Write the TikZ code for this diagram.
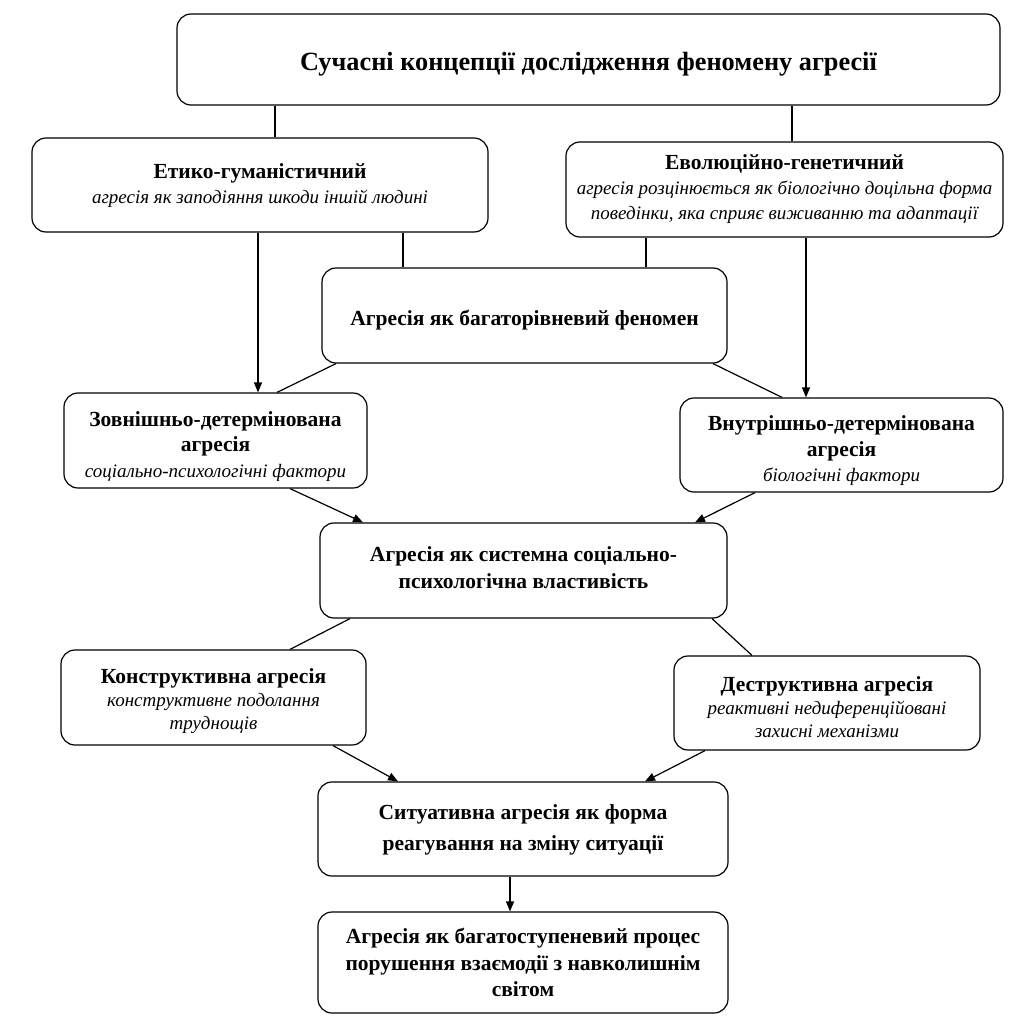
\documentclass[tikz,border=0pt]{standalone}
\usepackage{fontspec}
\setmainfont{Liberation Serif}
\usetikzlibrary{arrows.meta}
% bold upright heading line inside the smaller boxes
\newcommand\hd[1]{{\fontsize{21.5}{25}\selectfont\upshape\bfseries #1}}
\begin{document}
\begin{tikzpicture}[x=1pt,y=-1pt,
  box/.style={draw, line width=1.2pt, rounded corners=14pt, fill=white, inner sep=0pt},
  txt/.style={align=center, inner sep=0pt},
  headtxt/.style={txt, font=\fontsize{21.5}{27}\selectfont\bfseries},
  subtxt/.style={txt, font=\fontsize{19}{#1}\selectfont\itshape},
  link/.style={line width=1.2pt},
  arr/.style={line width=1.2pt, -{Triangle[length=10pt,width=8pt]}}]
\useasboundingbox[fill=white] (0,0) rectangle (1030,1030);

% boxes
\node[box, minimum width=823pt, minimum height=91pt] (top) at (588.5,59.5) {};
\node[box, minimum width=456pt, minimum height=94pt] (eth) at (260,185) {};
\node[box, minimum width=437pt, minimum height=95pt] (evo) at (784.5,189.5) {};
\node[box, minimum width=405pt, minimum height=95pt] (multi) at (524.5,315.5) {};
\node[box, minimum width=303pt, minimum height=95pt] (ext) at (215.5,440.5) {};
\node[box, minimum width=323pt, minimum height=94pt] (int) at (841.5,445) {};
\node[box, minimum width=407pt, minimum height=95pt] (sys) at (523.5,570.5) {};
\node[box, minimum width=305pt, minimum height=95pt] (con) at (213.5,697.5) {};
\node[box, minimum width=306pt, minimum height=94pt] (des) at (827,703) {};
\node[box, minimum width=410pt, minimum height=94pt] (sit) at (523,829) {};
\node[box, minimum width=410pt, minimum height=101pt] (proc) at (523,962.5) {};

% box texts
\node[headtxt, font=\fontsize{26.3}{30}\selectfont\bfseries] (top-t) at ([yshift=-5pt]top.center)
  {Сучасні концепції дослідження феномену агресії};
\node[subtxt=25] (eth-t) at ([yshift=-1pt]eth.center)
  {\hd{Етико-гуманістичний}\\ агресія як заподіяння шкоди іншій людині};
\node[subtxt=25] (evo-t) at ([yshift=0pt]evo.center)
  {\hd{Еволюційно-генетичний}\\ агресія розцінюється як біологічно доцільна форма\\ поведінки, яка сприяє виживанню та адаптації};
\node[headtxt] (multi-t) at ([yshift=-5pt]multi.center)
  {Агресія як багаторівневий феномен};
\node[subtxt=25.5] (ext-t) at ([yshift=-6pt]ext.center)
  {\hd{Зовнішньо-детермінована}\\ \hd{агресія}\\ соціально-психологічні фактори};
\node[subtxt=25.5] (int-t) at ([yshift=-6pt]int.center)
  {\hd{Внутрішньо-детермінована}\\ \hd{агресія}\\ біологічні фактори};
\node[headtxt] (sys-t) at ([yshift=3pt]sys.center)
  {Агресія як системна соціально-\\ психологічна властивість};
\node[subtxt=23] (con-t) at ([yshift=-4pt]con.center)
  {\hd{Конструктивна агресія}\\ конструктивне подолання\\ труднощів};
\node[subtxt=23] (des-t) at ([yshift=-4pt]des.center)
  {\hd{Деструктивна агресія}\\ реактивні недиференційовані\\ захисні механізми};
\node[headtxt, font=\fontsize{21.5}{31}\selectfont\bfseries] (sit-t) at ([yshift=-1pt]sit.center)
  {Ситуативна агресія як форма\\ реагування на зміну ситуації};
\node[headtxt, font=\fontsize{21.5}{26.5}\selectfont\bfseries] (proc-t) at (proc.center)
  {Агресія як багатоступеневий процес\\ порушення взаємодії з навколишнім\\ світом};

% connectors
\draw[link] ([xshift=-313.5pt]top.south) -- ([xshift=15pt]eth.north);
\draw[link] ([xshift=203.5pt]top.south) -- ([xshift=7.5pt]evo.north);
\draw[arr] ([xshift=-2pt]eth.south) -- ([xshift=42.5pt]ext.north);
\draw[link] ([xshift=143pt]eth.south) -- ([xshift=-121.5pt]multi.north);
\draw[link] ([xshift=-138.5pt]evo.south) -- ([xshift=121.5pt]multi.north);
\draw[arr] ([xshift=21.5pt]evo.south) -- ([xshift=-35.5pt]int.north);
\draw[link] ([xshift=-188.5pt]multi.south) -- ([xshift=61.5pt]ext.north);
\draw[link] ([xshift=188.5pt]multi.south) -- ([xshift=-59.5pt]int.north);
\draw[arr] ([xshift=74.5pt]ext.south) -- ([xshift=-160.5pt]sys.north);
\draw[arr] ([xshift=-86.5pt]int.south) -- ([xshift=171.5pt]sys.north);
\draw[link] ([xshift=-173.5pt]sys.south) -- ([xshift=76.5pt]con.north);
\draw[link] ([xshift=188.5pt]sys.south) -- ([xshift=-75pt]des.north);
\draw[arr] ([xshift=119.5pt]con.south) -- ([xshift=-125pt]sit.north);
\draw[arr] ([xshift=-122pt]des.south) -- ([xshift=122pt]sit.north);
\draw[arr] ([xshift=-13pt]sit.south) -- ([xshift=-13pt]proc.north);
\end{tikzpicture}
\end{document}
